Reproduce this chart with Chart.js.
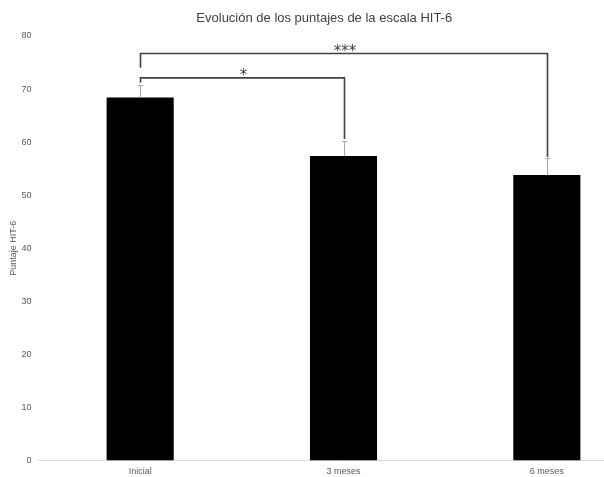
<!DOCTYPE html>
<html>
<head>
<meta charset="utf-8">
<script src="https://cdn.jsdelivr.net/npm/chart.js@4/dist/chart.umd.min.js"></script>
<style>
  html, body { margin: 0; padding: 0; background: #fff; overflow: hidden; }
  #wrap { width: 654px; height: 477px; }
</style>
</head>
<body>
<div id="wrap"><canvas id="c" width="654" height="477"></canvas></div>
<script>
// ---- data ----
const categories = ["Inicial", "3 meses", "6 meses"];
const scores = [68.4, 57.4, 53.8];
const errors = [2.3, 2.8, 3.3];
const yTicks = [0, 10, 20, 30, 40, 50, 60, 70, 80];
// significance brackets
const bracketFrom = [0, 0];
const bracketTo = [1, 2];
const bracketLevel = [72.1, 76.7];
const bracketLeftEnd = [71.2, 74.0];
const bracketRightEnd = [60.6, 57.2];
const bracketLabel = ["*", "***"];

const FONT = "'Liberation Sans', Arial, sans-serif";

const annotations = {
  id: 'annotations',
  afterDatasetsDraw(chart) {
    const ctx = chart.ctx;
    const x = chart.scales.x, y = chart.scales.y;
    ctx.save();
    // error bars
    ctx.strokeStyle = '#a6a6a6';
    ctx.lineWidth = 1;
    scores.forEach((v, i) => {
      const px = Math.round(x.getPixelForValue(i)) + 0.5;
      const top = y.getPixelForValue(v + errors[i]);
      const base = y.getPixelForValue(v);
      ctx.beginPath();
      ctx.moveTo(px, base);
      ctx.lineTo(px, top);
      ctx.moveTo(px - 2.5, Math.round(top) + 0.5);
      ctx.lineTo(px + 2.5, Math.round(top) + 0.5);
      ctx.stroke();
    });
    // brackets
    ctx.strokeStyle = '#404040';
    ctx.lineWidth = 1.6;
    ctx.fillStyle = '#404040';
    ctx.textAlign = 'center';
    ctx.textBaseline = 'alphabetic';
    ctx.font = "15px 'DejaVu Sans', sans-serif";
    bracketFrom.forEach((f, k) => {
      const x1 = Math.round(x.getPixelForValue(f)) + 0.5;
      const x2 = Math.round(x.getPixelForValue(bracketTo[k])) + 0.5;
      const yl = y.getPixelForValue(bracketLevel[k]);
      ctx.beginPath();
      ctx.moveTo(x1, y.getPixelForValue(bracketLeftEnd[k]));
      ctx.lineTo(x1, yl);
      ctx.lineTo(x2, yl);
      ctx.lineTo(x2, y.getPixelForValue(bracketRightEnd[k]));
      ctx.stroke();
      ctx.fillText(bracketLabel[k], (x1 + x2) / 2 + 1, yl + 2);
    });
    ctx.restore();
  }
};

new Chart(document.getElementById('c'), {
  type: 'bar',
  data: {
    labels: categories,
    datasets: [{
      data: scores,
      backgroundColor: '#000000',
      borderWidth: 0,
      barPercentage: 0.33,
      categoryPercentage: 1.0
    }]
  },
  options: {
    responsive: false,
    animation: false,
    devicePixelRatio: 1,
    layout: { padding: { left: 0, right: 5.5, top: 0, bottom: 0 } },
    plugins: {
      legend: { display: false },
      tooltip: { enabled: false },
      title: {
        display: true,
        text: 'Evolución de los puntajes de la escala HIT-6',
        color: '#404040',
        font: { family: FONT, size: 13, weight: 'normal', lineHeight: 1.2 },
        padding: { top: 11, bottom: 9.4 }
      }
    },
    scales: {
      x: {
        grid: { display: false, drawTicks: false },
        border: { display: true, color: '#d9d9d9', width: 1 },
        ticks: { color: '#595959', font: { family: FONT, size: 9 }, padding: 6 },
        afterFit(s) { s.height = 16.5; }
      },
      y: {
        min: 0, max: 80,
        afterBuildTicks(s) { s.ticks = yTicks.map(v => ({ value: v })); },
        grid: { display: false, drawTicks: false },
        border: { display: false },
        ticks: { color: '#595959', font: { family: FONT, size: 9 }, padding: 7 },
        title: {
          display: true,
          text: 'Puntaje HIT-6',
          color: '#595959',
          font: { family: FONT, size: 9 },
          padding: { top: 8, bottom: 0 }
        },
        afterFit(s) { s.width = 38.5; }
      }
    }
  },
  plugins: [annotations]
});
</script>
</body>
</html>
